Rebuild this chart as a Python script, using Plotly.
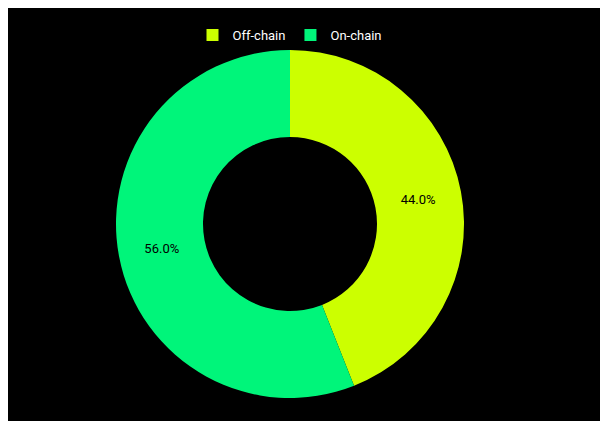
import plotly.graph_objects as go

labels = ["Off-chain", "On-chain"]
values = [44.0, 56.0]
colors = ["#ccff00", "#00f57a"]

fig = go.Figure(go.Pie(
    labels=labels, values=values, hole=0.5, sort=False, direction="clockwise",
    rotation=0, marker=dict(colors=colors, line=dict(color="#000000", width=0)),
    textinfo="percent", texttemplate="%{percent:.1%}",
    textfont=dict(color="#000000", size=13),
))
fig.update_layout(
    width=608, height=421,
    paper_bgcolor="#000000", plot_bgcolor="#000000",
    font=dict(family="Roboto", color="#ffffff", size=13),
    margin=dict(l=0, r=44, t=42, b=31),
    legend=dict(orientation="h", x=0.5, xanchor="center", y=1.0, yanchor="bottom",
                font=dict(color="#ffffff", size=13)),
)
fig.write_html("out.html")
